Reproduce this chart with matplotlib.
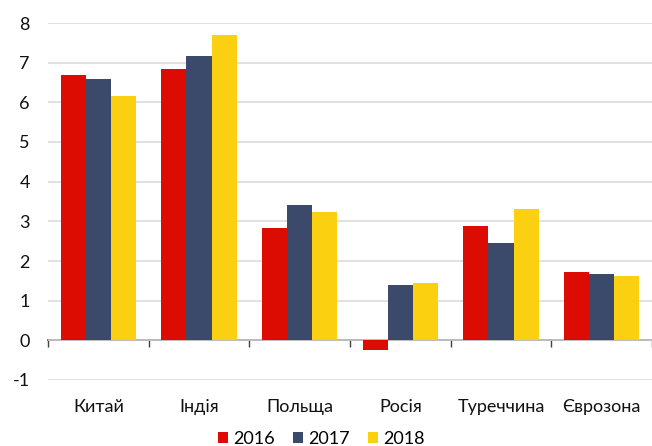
import matplotlib
matplotlib.use("Agg")
import matplotlib.pyplot as plt
import numpy as np

plt.rcParams['font.family'] = ['Lato', 'DejaVu Sans']
plt.rcParams['axes.unicode_minus'] = False

categories = ['Китай', 'Індія', 'Польща', 'Росія', 'Туреччина', 'Єврозона']
series_names = ['2016', '2017', '2018']
values_2016 = [6.70, 6.84, 2.83, -0.24, 2.88, 1.73]
values_2017 = [6.58, 7.18, 3.41, 1.40, 2.46, 1.68]
values_2018 = [6.17, 7.69, 3.23, 1.44, 3.30, 1.62]
colors = ['#DD0C02', '#3B4A6B', '#FAD011']
y_ticks = [-1, 0, 1, 2, 3, 4, 5, 6, 7, 8]

fig = plt.figure(figsize=(6.52, 4.46), dpi=100)
ax = fig.add_axes([48 / 652, 1 - 380 / 446, 1 - 48 / 652, (380 - 23) / 446])

n = len(categories)
centers = np.arange(n) + 0.5
width = 0.25
all_series = [values_2016, values_2017, values_2018]
for k, (vals, name, col) in enumerate(zip(all_series, series_names, colors)):
    ax.bar(centers + (k - 1) * width, vals, width=width, color=col,
           label=name, zorder=2)

ax.set_xlim(0, n)
ax.set_ylim(-1, 8)
ax.set_yticks(y_ticks)
ax.set_yticklabels([str(t) for t in y_ticks])
ax.tick_params(axis='y', length=0, pad=13, labelsize=13, labelcolor='#111111')
ax.yaxis.grid(True, color='#d9d9d9', linewidth=1.1, zorder=0)
ax.set_axisbelow(True)

ax.set_xticks(centers)
ax.set_xticklabels(categories)
ax.tick_params(axis='x', length=0, pad=14, labelsize=13, labelcolor='#111111')

for s in ax.spines.values():
    s.set_visible(False)

# category axis line at zero with boundary ticks
zero_frac = (0 - (-1)) / (8 - (-1))
sec = ax.secondary_xaxis(zero_frac)
sec.set_xticks(np.arange(n + 1))
sec.set_xticklabels([])
sec.tick_params(axis='x', direction='out', length=5, width=1, color='#404040')
sec.spines['bottom'].set_color('#404040')
sec.spines['bottom'].set_linewidth(1.2)
for name in ['top', 'left', 'right']:
    if name in sec.spines:
        sec.spines[name].set_visible(False)

fig.legend(loc='center', bbox_to_anchor=(0.493, 1 - 438.5 / 446), ncol=3,
           frameon=False, fontsize=13, handlelength=0.55, handleheight=0.55,
           handletextpad=0.3, columnspacing=1.0, borderpad=0, borderaxespad=0)

fig.savefig('out.png', dpi=100)
